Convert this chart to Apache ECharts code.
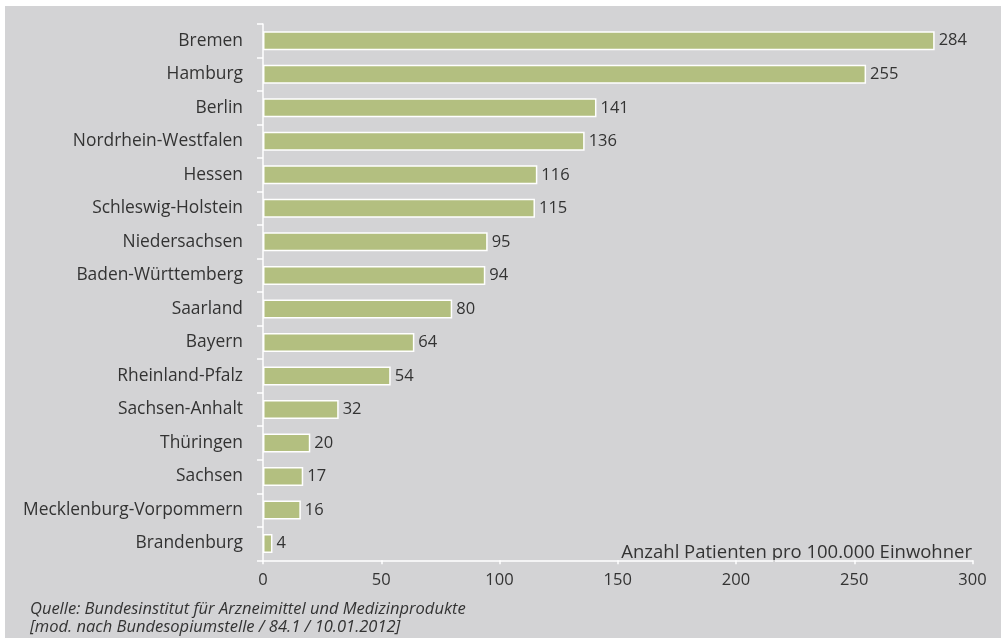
<!DOCTYPE html>
<html><head><meta charset="utf-8">
<script src="https://cdn.jsdelivr.net/npm/echarts@6/dist/echarts.min.js"></script>
<style>html,body{margin:0;padding:0;background:#fff}#c{width:1001px;height:638px}</style>
</head><body><div id="c"></div>
<script>
const categories = ["Bremen","Hamburg","Berlin","Nordrhein-Westfalen","Hessen","Schleswig-Holstein","Niedersachsen","Baden-Württemberg","Saarland","Bayern","Rheinland-Pfalz","Sachsen-Anhalt","Thüringen","Sachsen","Mecklenburg-Vorpommern","Brandenburg"];
const values = [284,255,141,136,116,115,95,94,80,64,54,32,20,17,16,4];
const xTicks = [0,50,100,150,200,250,300];
const unitNote = "Anzahl Patienten pro 100.000 Einwohner";
const sourceLines = ["Quelle: Bundesinstitut für Arzneimittel und Medizinprodukte","[mod. nach Bundesopiumstelle / 84.1 / 10.01.2012]"];

const font = "'Open Sans', 'Noto Sans', sans-serif";
const chart = echarts.init(document.getElementById('c'), null, {renderer:'canvas'});
chart.setOption({
  backgroundColor: '#ffffff',
  animation: false,
  grid: {left: 263, right: 28.5, top: 24, bottom: 77.7, containLabel: false},
  graphic: [
    {type:'rect', z:-10, silent:true, shape:{x:5, y:6, width:996, height:632}, style:{fill:'#d3d3d5'}},
    {type:'text', right: 29, top: 543, style:{text: unitNote, font: "18.5px " + font, fill:'#333333'}},
    {type:'text', left: 30, top: 600, style:{text: sourceLines.join('\n'), font: "italic 16.5px " + font, fill:'#333333', lineHeight:18}}
  ],
  xAxis: {
    type:'value', min: xTicks[0], max: xTicks[xTicks.length-1], interval: 50,
    axisLine:{show:true, lineStyle:{color:'#ffffff', width:1.5}},
    axisTick:{show:true, length:4, lineStyle:{color:'#ffffff', width:1.5}},
    splitLine:{show:false},
    axisLabel:{color:'#333333', fontSize:16.5, fontFamily:font, margin:11}
  },
  yAxis: {
    type:'category', data: categories, inverse:true,
    axisLine:{show:true, lineStyle:{color:'#ffffff', width:1.5}},
    axisTick:{show:true, length:6, lineStyle:{color:'#ffffff', width:1.5}},
    axisLabel:{color:'#333333', fontSize:17.4, fontFamily:font, margin:20}
  },
  series: [{
    type:'bar', data: values, barWidth: 19,
    itemStyle:{color:'#b3bf80', borderColor:'#ffffff', borderWidth:1.5},
    label:{show:true, position:'right', distance:4, color:'#333333', fontSize:16.5, fontFamily:font}
  }]
});
</script></body></html>
